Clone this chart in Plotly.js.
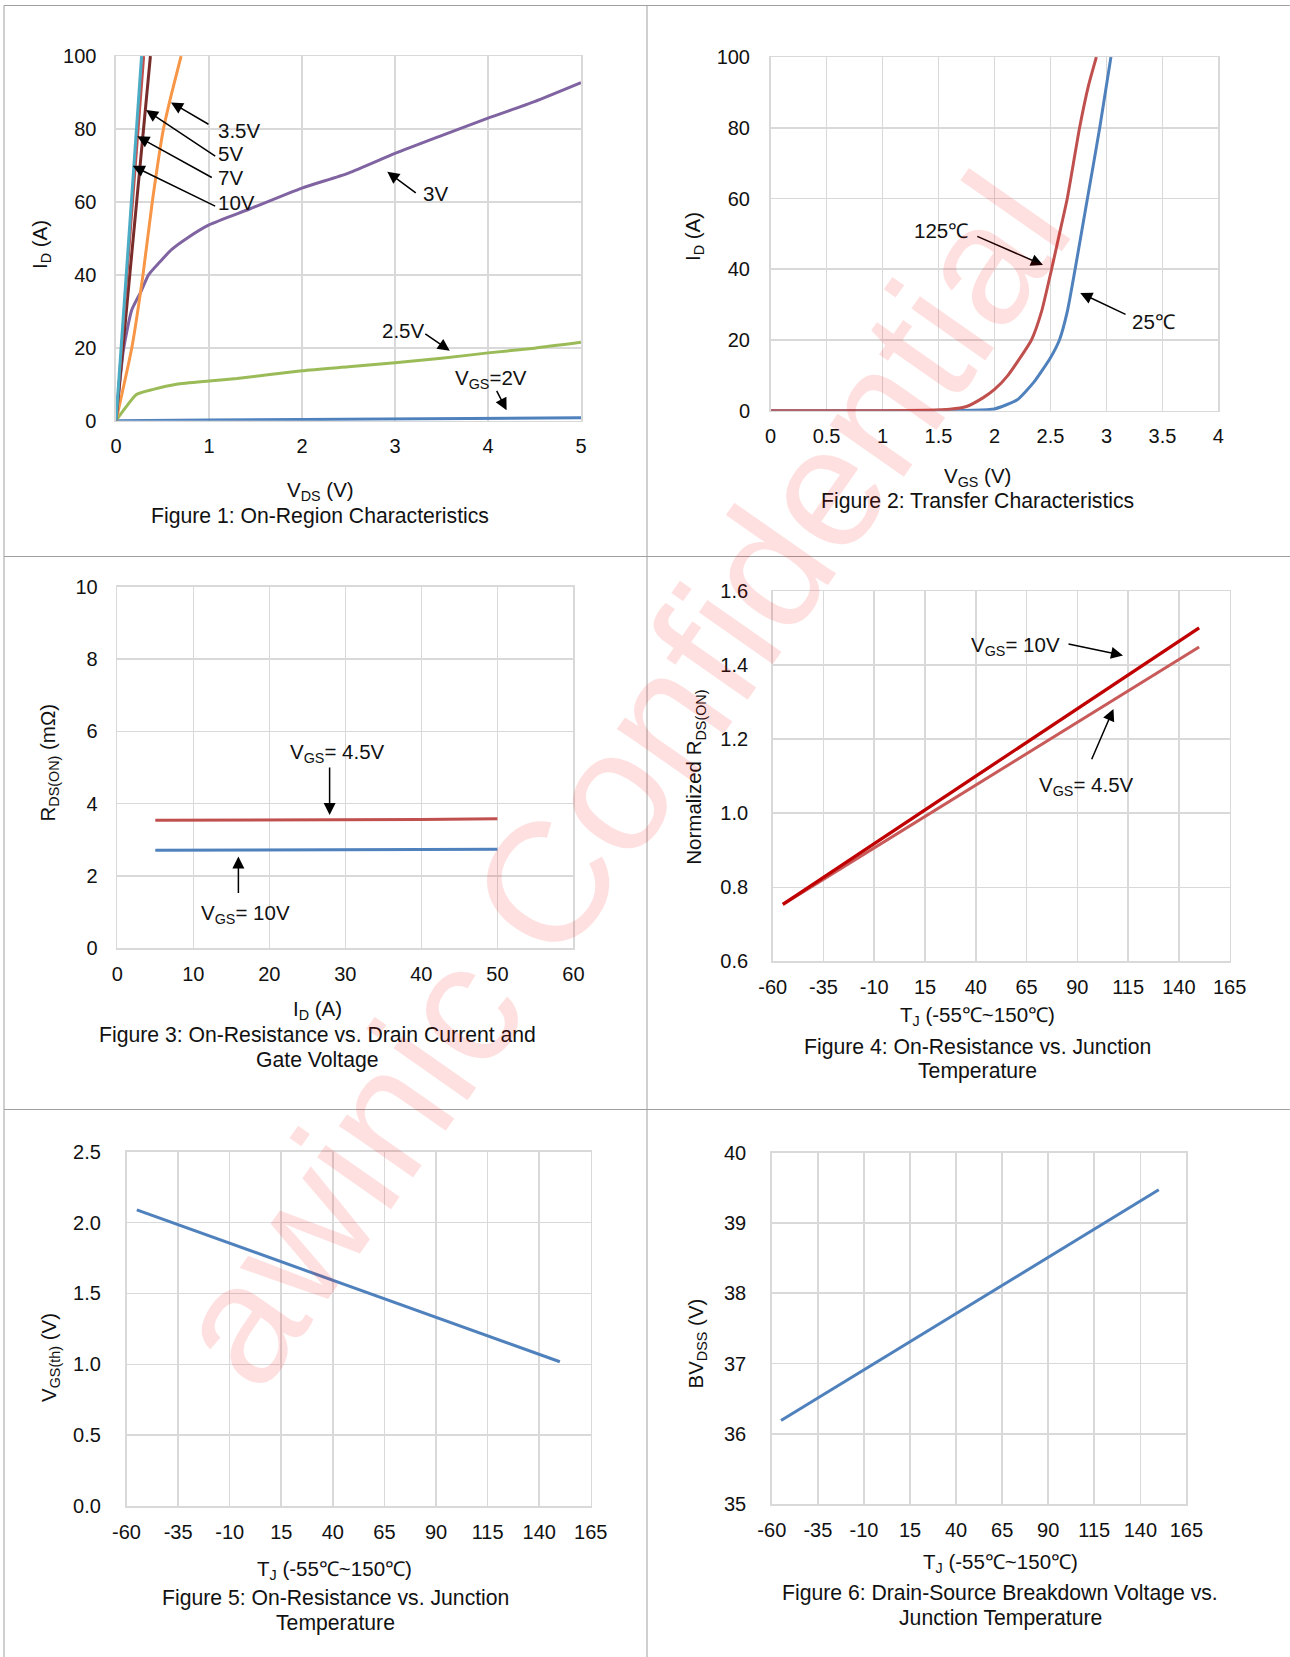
<!DOCTYPE html>
<html>
<head>
<meta charset="utf-8">
<script src="https://cdn.plot.ly/plotly-3.0.1.min.js"></script>
<style>html,body{margin:0;padding:0;background:#fff;}#chart{width:1290px;height:1657px;}</style>
</head>
<body>
<div id="chart"></div>
<script>
// ---------- DATA ----------
// Figure 1: On-Region Characteristics (ID vs VDS)
const vds_2V   = [0, 0.5, 1, 2, 3, 4, 5];
const id_2V    = [0, 0.15, 0.2, 0.3, 0.4, 0.55, 0.8];
const vds_2p5V = [0, 0.1, 0.22, 0.4, 0.65, 1, 1.3, 2, 2.5, 3, 3.5, 4, 4.5, 5];
const id_2p5V  = [0, 3.5, 7.2, 8.6, 10, 10.9, 11.6, 13.7, 14.8, 15.9, 17.1, 18.6, 19.9, 21.5];
const vds_3V   = [0, 0.04, 0.08, 0.17, 0.27, 0.35, 0.47, 0.6, 0.76, 1, 1.43, 2, 2.5, 3, 3.5, 4, 4.5, 5];
const id_3V    = [0, 10.3, 19.4, 30.4, 35.5, 40, 43.5, 47, 50, 53.7, 58, 63.8, 67.9, 73.3, 78.2, 83, 87.5, 92.7];
const vds_3p5V = [0, 0.17, 0.29, 0.39, 0.51, 0.6, 0.7];
const id_3p5V  = [0, 20, 40, 60, 80, 90, 100];
const vds_5V   = [0, 0.37];
const id_5V    = [0, 100];
const vds_7V   = [0, 0.30];
const id_7V    = [0, 100];
const vds_10V  = [0, 0.275];
const id_10V   = [0, 100];

// Figure 2: Transfer Characteristics (ID vs VGS)
const vgs_25C  = [0, 0.5, 1, 1.5, 1.8, 2.0, 2.2, 2.35, 2.5, 2.58, 2.65, 2.72, 2.83, 2.94, 3.04];
const id_25C   = [0, 0, 0, 0, 0.1, 0.5, 3, 8, 15, 20, 28, 40, 60, 80, 100];
const vgs_125C = [0, 0.5, 1, 1.4, 1.6, 1.75, 1.9, 2.0, 2.12, 2.33, 2.42, 2.51, 2.58, 2.65, 2.76, 2.84, 2.91];
const id_125C  = [0, 0, 0, 0.1, 0.4, 1.2, 3.7, 6, 10, 20, 28, 40, 50, 60, 80, 92, 100];

// Figure 3: RDS(ON) vs ID
const id_r     = [5, 10, 20, 30, 40, 50];
const r_4p5V   = [3.54, 3.54, 3.55, 3.55, 3.56, 3.58];
const r_10V    = [2.71, 2.71, 2.72, 2.72, 2.73, 2.74];

// Figure 4: Normalized RDS(ON) vs TJ
const tj       = [-55, -25, 0, 25, 50, 75, 100, 125, 150];
const nr_10V   = [0.754, 0.863, 0.954, 1.045, 1.137, 1.228, 1.319, 1.410, 1.501];
const nr_4p5V  = [0.754, 0.856, 0.940, 1.025, 1.110, 1.195, 1.280, 1.364, 1.449];

// Figure 5: VGS(th) vs TJ
const vth      = [2.09, 1.933, 1.802, 1.672, 1.541, 1.410, 1.279, 1.149, 1.018];

// Figure 6: BVDSS vs TJ
const bvdss    = [36.19, 36.67, 37.07, 37.47, 37.87, 38.27, 38.67, 39.07, 39.47];

// Tick values / labels for temperature axes
const tjTicks    = [-60, -35, -10, 15, 40, 65, 90, 115, 140, 165];
const tjTickText = ['-60', '-35', '-10', '15', '40', '65', '90', '115', '140', '165'];

// ---------- STYLE / LAYOUT ----------
const W = 1290, H = 1657;
const FONT = 'Liberation Sans, Arial, Helvetica, sans-serif';
const TXT = '#111111';
const GRID = '#d9d9d9';
const BLUE = '#4f81bd', RED = '#c0504d', DRED = '#c00000', GREEN = '#9bbb59',
      PURPLE = '#8064a2', ORANGE = '#f79646', BROWN = '#772c2a', TEAL = '#4bacc6';

// plot boxes in pixels: [left, right, top, bottom]
const boxes = [
  [116, 581, 56.1, 420.7],
  [770.6, 1218.4, 57.1, 410.7],
  [117.3, 573.4, 586.8, 948.2],
  [772.7, 1229.6, 591.1, 961.4],
  [126.5, 590.8, 1151.8, 1506],
  [771.8, 1186.4, 1152.5, 1504.3]
];
const px = v => v / W;
const py = v => 1 - v / H;

function xax(i, range, extra) {
  const b = boxes[i];
  return Object.assign({
    domain: [px(b[0]), px(b[1])], range: range, anchor: 'y' + (i ? i + 1 : ''),
    showgrid: true, gridcolor: GRID, gridwidth: 1.6, zeroline: false,
    showline: true, mirror: true, linecolor: GRID, linewidth: 1.6,
    ticks: '', tickangle: 0, ticklabelstandoff: 7,
    tickfont: {family: FONT, size: 20, color: TXT}, fixedrange: true
  }, extra || {});
}
function yax(i, range, extra) {
  const b = boxes[i];
  return Object.assign({
    domain: [py(b[3]), py(b[2])], range: range, anchor: 'x' + (i ? i + 1 : ''),
    showgrid: true, gridcolor: GRID, gridwidth: 1.6, zeroline: false,
    showline: true, mirror: true, linecolor: GRID, linewidth: 1.6,
    ticks: '', ticklabelstandoff: 14,
    tickfont: {family: FONT, size: 20, color: TXT}, fixedrange: true
  }, extra || {});
}

function line(x, y, color, ax, w, smooth) {
  const ln = {color: color, width: w || 3};
  if (smooth) { ln.shape = 'spline'; ln.smoothing = smooth; }
  return {x: x, y: y, type: 'scatter', mode: 'lines', xaxis: 'x' + ax, yaxis: 'y' + ax,
          line: ln, hoverinfo: 'skip', showlegend: false};
}

const data = [
  line(vds_2V, id_2V, BLUE, ''),
  line(vds_2p5V, id_2p5V, GREEN, '', 3, 0.6),
  line(vds_3V, id_3V, PURPLE, '', 3, 0.6),
  line(vds_3p5V, id_3p5V, ORANGE, '', 3, 0.5),
  line(vds_5V, id_5V, BROWN, ''),
  line(vds_7V, id_7V, RED, '', 2.5),
  line(vds_10V, id_10V, TEAL, ''),
  line(vgs_25C, id_25C, BLUE, '2', 3, 0.5),
  line(vgs_125C, id_125C, RED, '2', 3, 0.5),
  line(id_r, r_4p5V, RED, '3'),
  line(id_r, r_10V, BLUE, '3'),
  line(tj, nr_4p5V, '#c85a5a', '4'),
  line(tj, nr_10V, DRED, '4', 3.3),
  line(tj, vth, BLUE, '5'),
  line(tj, bvdss, BLUE, '6')
];

const ann = [];
function label(xr, yr, x, y, text, anchor) {
  ann.push({xref: xr, yref: yr, x: x, y: y, text: text, showarrow: false,
            xanchor: anchor || 'center', yanchor: 'middle', borderpad: 0,
            font: {family: FONT, size: 20.5, color: TXT}});
}
function arrow(xr, yr, x, y, ax, ay) {
  ann.push({xref: xr, yref: yr, x: x, y: y, ax: ax, ay: ay, text: '', showarrow: true,
            arrowhead: 2, arrowsize: 1.6, arrowwidth: 1.5, arrowcolor: '#000',
            standoff: 0, startstandoff: 0});
}
function ptext(xp, yp, text, angle, size) {
  ann.push({xref: 'paper', yref: 'paper', x: px(xp), y: py(yp), text: text, showarrow: false,
            xanchor: 'center', yanchor: 'middle', textangle: angle || 0, borderpad: 0,
            font: {family: FONT, size: size || 20.5, color: TXT}});
}

// Figure 1 labels
label('x', 'y', 1.09, 79.7, '3.5V', 'left');
label('x', 'y', 1.09, 73.2, '5V', 'left');
label('x', 'y', 1.09, 66.6, '7V', 'left');
label('x', 'y', 1.09, 59.8, '10V', 'left');
arrow('x', 'y', 0.591, 87.3, 39, 22.7);
arrow('x', 'y', 0.323, 85.2, 70.7, 47);
arrow('x', 'y', 0.229, 78.0, 76, 42);
arrow('x', 'y', 0.179, 69.9, 84, 41);
label('x', 'y', 3.29, 62.4, '3V', 'left');
arrow('x', 'y', 2.917, 68.3, 30, 22.3);
label('x', 'y', 3.09, 24.8, '2.5V');
arrow('x', 'y', 3.589, 19.2, -26, -17.8);
label('x', 'y', 4.03, 11.4, 'V<sub>GS</sub>=2V');
arrow('x', 'y', 4.20, 2.9, -10.7, -20.7);

// Figure 2 labels
label('x2', 'y2', 1.519, 51.0, '125℃');
arrow('x2', 'y2', 2.433, 41.2, -67.2, -29.3);
label('x2', 'y2', 3.42, 25.3, '25℃');
arrow('x2', 'y2', 2.766, 33.3, 46.8, 22.1);

// Figure 3 labels
label('x3', 'y3', 29.0, 5.39, 'V<sub>GS</sub>= 4.5V');
arrow('x3', 'y3', 27.93, 3.686, 0, -48.9);
label('x3', 'y3', 16.9, 0.94, 'V<sub>GS</sub>= 10V');
arrow('x3', 'y3', 15.93, 2.54, 0, 38.2);

// Figure 4 labels
label('x4', 'y4', 59.4, 1.4525, 'V<sub>GS</sub>= 10V');
arrow('x4', 'y4', 112.5, 1.4264, -56, -11.8);
label('x4', 'y4', 94.6, 1.0745, 'V<sub>GS</sub>= 4.5V');
arrow('x4', 'y4', 107.8, 1.2819, -22.4, 51.8);

// Axis titles and captions (caption lines placed individually)
const CAP = 21.2;
ptext(320, 491, 'V<sub>DS</sub> (V)');
ptext(320, 516, 'Figure 1: On-Region Characteristics', 0, CAP);
ptext(41, 245, 'I<sub>D</sub> (A)', -90);

ptext(977, 477, 'V<sub>GS</sub> (V)');
ptext(977, 501, 'Figure 2: Transfer Characteristics', 0, CAP);
ptext(694, 237, 'I<sub>D</sub> (A)', -90);

ptext(317, 1009.5, 'I<sub>D</sub> (A)');
ptext(317, 1035, 'Figure 3: On-Resistance vs. Drain Current and', 0, CAP);
ptext(317, 1059.5, 'Gate Voltage', 0, CAP);
ptext(48, 762.5, 'R<sub>DS(ON)</sub> (mΩ)', -90);

ptext(977, 1016.5, 'T<sub>J</sub> (-55℃~150℃)');
ptext(977, 1047, 'Figure 4: On-Resistance vs. Junction', 0, CAP);
ptext(977, 1071, 'Temperature', 0, CAP);
ptext(695, 777.7, 'Normalized R<sub>DS(ON)</sub>', -90);

ptext(334, 1569.5, 'T<sub>J</sub> (-55℃~150℃)');
ptext(335, 1597.5, 'Figure 5: On-Resistance vs. Junction', 0, CAP);
ptext(335, 1622.5, 'Temperature', 0, CAP);
ptext(50, 1358, 'V<sub>GS(th)</sub> (V)', -90);

ptext(1000, 1563, 'T<sub>J</sub> (-55℃~150℃)');
ptext(1000, 1593, 'Figure 6: Drain-Source Breakdown Voltage vs.', 0, CAP);
ptext(1000, 1617.5, 'Junction Temperature', 0, CAP);
ptext(696, 1343.5, 'BV<sub>DSS</sub> (V)', -90);

// watermark
ann.push({xref: 'paper', yref: 'paper', x: px(619), y: py(779), text: 'awinic Confidential',
          showarrow: false, xanchor: 'center', yanchor: 'middle', textangle: -55,
          font: {family: FONT, size: 171, color: 'rgba(255,0,0,0.12)'}});

// frame lines
const FR = '#a0a0a0';
function seg(x0, y0, x1, y1) {
  return {type: 'line', xref: 'paper', yref: 'paper', x0: px(x0), y0: py(y0), x1: px(x1), y1: py(y1),
          line: {color: FR, width: 1}, layer: 'above'};
}
const shapes = [
  seg(4, 5.5, 1290, 5.5),
  seg(4, 5.5, 4, 1657),
  seg(647, 5.5, 647, 1657),
  seg(4, 556.5, 1290, 556.5),
  seg(4, 1109.5, 1290, 1109.5)
];

const tjAxis = {tickmode: 'array', tickvals: tjTicks, ticktext: tjTickText};
const layout = {
  width: W, height: H, margin: {l: 0, r: 0, t: 0, b: 0, pad: 0},
  paper_bgcolor: '#fff', plot_bgcolor: '#fff', showlegend: false,
  font: {family: FONT, color: TXT},
  xaxis:  xax(0, [0, 5], {dtick: 1}),
  yaxis:  yax(0, [0, 100], {dtick: 20, ticklabelstandoff: 14}),
  xaxis2: xax(1, [0, 4], {dtick: 0.5}),
  yaxis2: yax(1, [0, 100], {dtick: 20, ticklabelstandoff: 15}),
  xaxis3: xax(2, [0, 60], {dtick: 10}),
  yaxis3: yax(2, [0, 10], {dtick: 2, ticklabelstandoff: 14}),
  xaxis4: xax(3, [-60, 165], tjAxis),
  yaxis4: yax(3, [0.6, 1.6], {dtick: 0.2, tickformat: '.1f', ticklabelstandoff: 19}),
  xaxis5: xax(4, [-60, 165], tjAxis),
  yaxis5: yax(4, [0, 2.5], {dtick: 0.5, tickformat: '.1f', ticklabelstandoff: 20}),
  xaxis6: xax(5, [-60, 165], tjAxis),
  yaxis6: yax(5, [35, 40], {dtick: 1, ticklabelstandoff: 20}),
  annotations: ann,
  shapes: shapes
};

Plotly.newPlot('chart', data, layout, {staticPlot: true, displayModeBar: false});
</script>
</body>
</html>
